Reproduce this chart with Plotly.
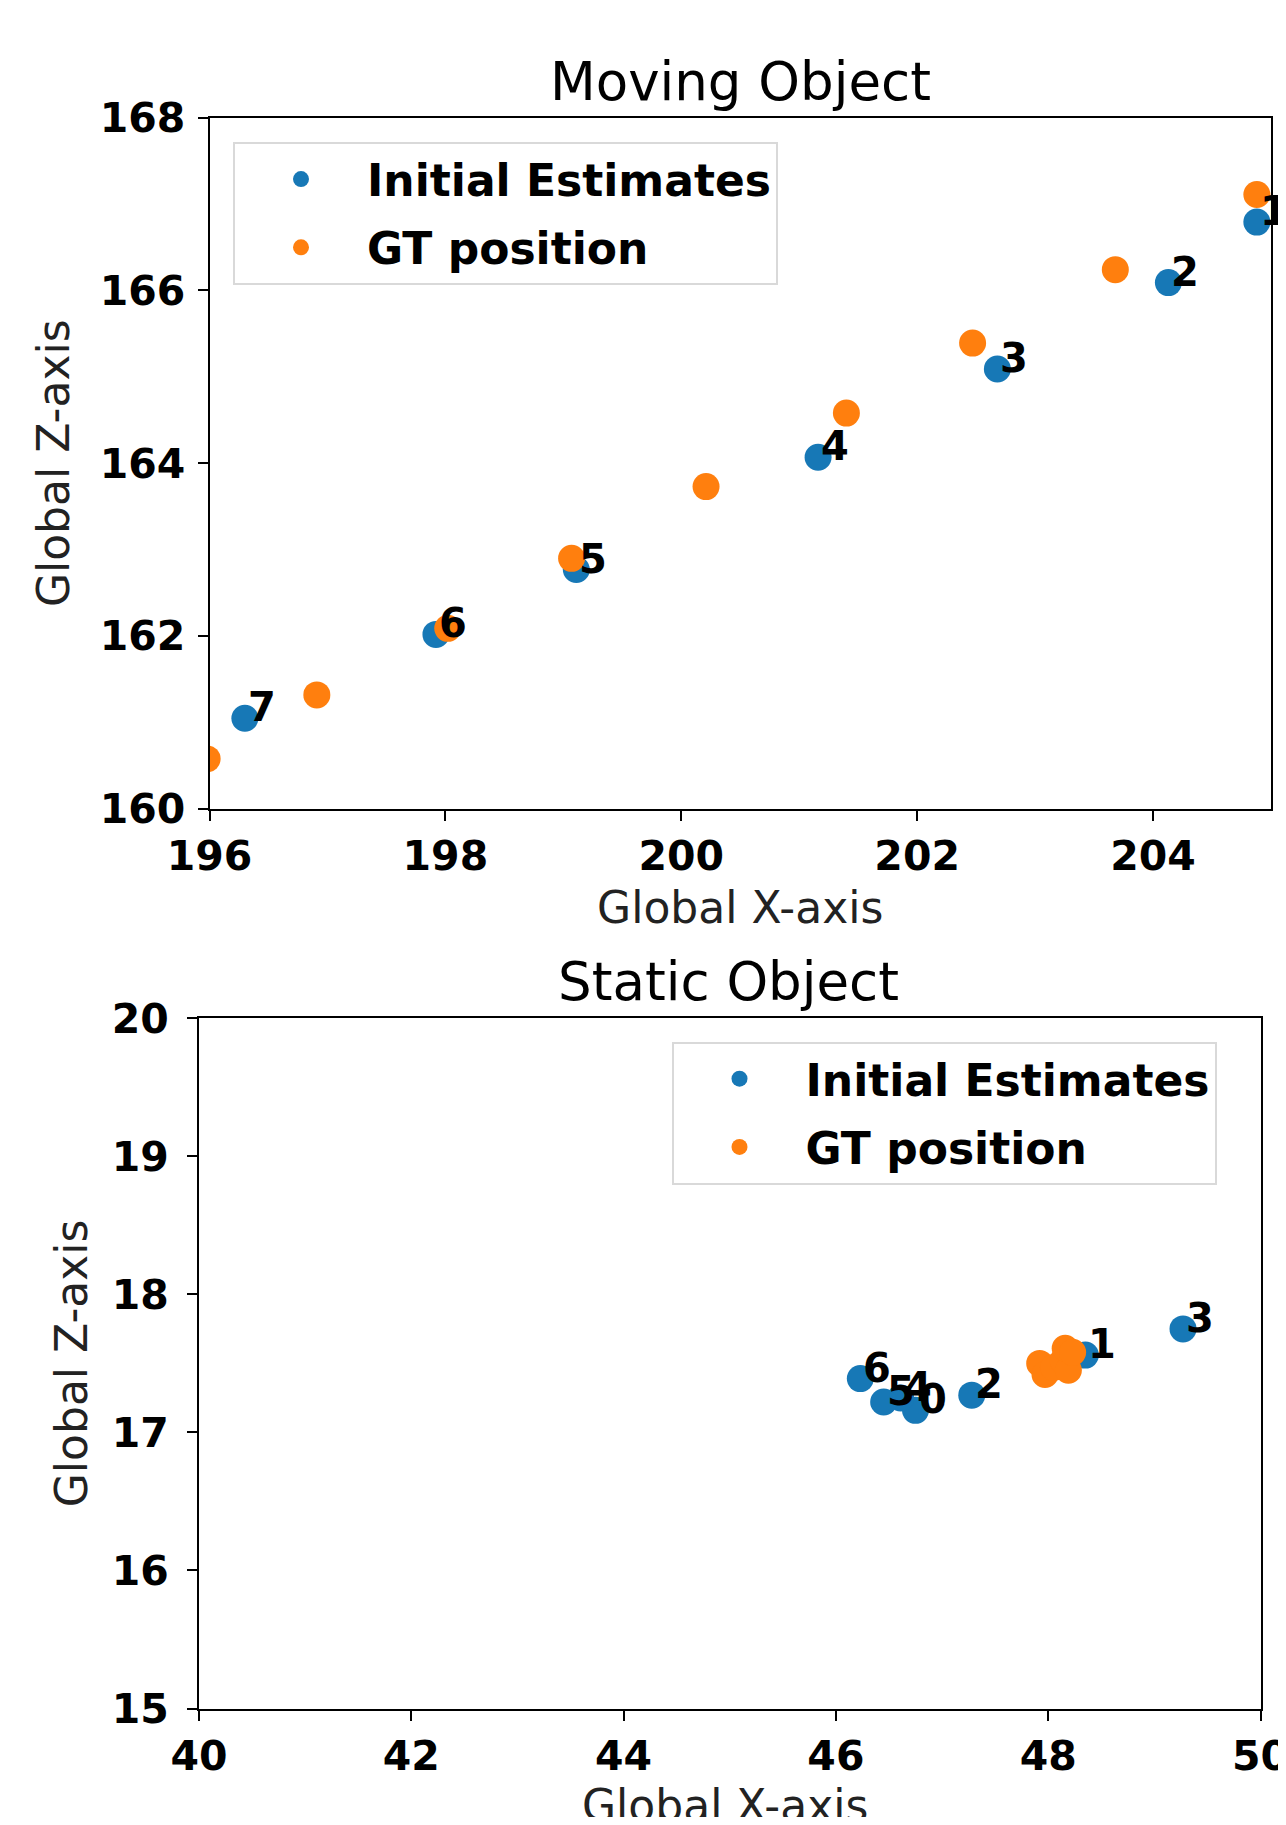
import plotly.graph_objects as go

# ---------------- data ----------------
mov_est_x = [204.88, 204.13, 202.68, 201.16, 199.11, 197.92, 196.30]
mov_est_z = [166.79, 166.09, 165.09, 164.07, 162.77, 162.02, 161.05]
mov_labels = ["1", "2", "3", "4", "5", "6", "7"]
mov_gt_x = [204.88, 203.68, 202.47, 201.40, 200.21, 199.07, 198.02, 196.91, 195.98]
mov_gt_z = [167.11, 166.24, 165.39, 164.58, 163.73, 162.90, 162.09, 161.32, 160.58]

sta_est_x = [46.75, 48.35, 47.28, 49.27, 46.61, 46.45, 46.23]
sta_est_z = [17.16, 17.56, 17.27, 17.75, 17.25, 17.22, 17.39]
sta_labels = ["0", "1", "2", "3", "4", "5", "6"]
sta_gt_x = [47.92, 47.97, 48.05, 48.14, 48.19, 48.16, 48.23]
sta_gt_z = [17.50, 17.42, 17.47, 17.52, 17.45, 17.61, 17.58]

mov_xticks = [196, 198, 200, 202, 204]
mov_zticks = [160, 162, 164, 166, 168]
sta_xticks = [40, 42, 44, 46, 48, 50]
sta_zticks = [15, 16, 17, 18, 19, 20]

BLUE = "#1778b6"
ORANGE = "#ff7f0e"
FONT = "DejaVu Sans"
W, H = 1270, 1809   # page has an 8px body margin

fig = go.Figure()

fig.add_trace(go.Scatter(x=mov_est_x, y=mov_est_z, mode="markers", name="Initial Estimates",
                         marker=dict(color=BLUE, size=27), xaxis="x", yaxis="y",
                         legend="legend", legendgroup="a"))
fig.add_trace(go.Scatter(x=mov_gt_x, y=mov_gt_z, mode="markers", name="GT position",
                         marker=dict(color=ORANGE, size=27), xaxis="x", yaxis="y",
                         legend="legend", legendgroup="b"))
fig.add_trace(go.Scatter(x=sta_est_x, y=sta_est_z, mode="markers", name="Initial Estimates",
                         marker=dict(color=BLUE, size=27), xaxis="x2", yaxis="y2",
                         legend="legend2", legendgroup="c"))
fig.add_trace(go.Scatter(x=sta_gt_x, y=sta_gt_z, mode="markers", name="GT position",
                         marker=dict(color=ORANGE, size=27), xaxis="x2", yaxis="y2",
                         legend="legend2", legendgroup="d"))

lab_font = dict(family=FONT, size=40, color="black", weight="bold")
annotations = []
for x, z, t in zip(mov_est_x, mov_est_z, mov_labels):
    annotations.append(dict(x=x, y=z, xref="x", yref="y", text=t, showarrow=False,
                            xanchor="left", yanchor="middle", xshift=1, yshift=11, font=lab_font))
for x, z, t in zip(sta_est_x, sta_est_z, sta_labels):
    annotations.append(dict(x=x, y=z, xref="x2", yref="y2", text=t, showarrow=False,
                            xanchor="left", yanchor="middle", xshift=1, yshift=11, font=lab_font))

annotations.append(dict(x=732 / W, y=1 - 73 / H, xref="paper", yref="paper", text="Moving Object",
                        showarrow=False, xanchor="center", yanchor="middle",
                        font=dict(family=FONT, size=53, color="black")))
annotations.append(dict(x=720 / W, y=1 - 973 / H, xref="paper", yref="paper", text="Static Object",
                        showarrow=False, xanchor="center", yanchor="middle",
                        font=dict(family=FONT, size=53, color="black")))

title_font = dict(family=FONT, size=44, color="#222")
# bottom x-axis title (runs past the page bottom, as in the original)
annotations.append(dict(x=717 / W, y=1 - 1797 / H, xref="paper", yref="paper", text="Global X-axis",
                        showarrow=False, xanchor="center", yanchor="middle", font=title_font))

axis_common = dict(showgrid=False, zeroline=False, showline=True, linecolor="black", linewidth=2,
                   mirror=True, ticks="outside", ticklen=10, tickwidth=2, tickcolor="black",
                   tickfont=dict(family=FONT, size=41, color="black", weight="bold"),
                   ticklabeloverflow="allow", automargin=False)
leg_font = dict(family=FONT, size=44, color="black", weight="bold")

fig.update_layout(
    width=W, height=H,
    margin=dict(l=0, r=0, t=0, b=0),
    paper_bgcolor="white", plot_bgcolor="white",
    annotations=annotations,
    xaxis=dict(domain=[201.5 / W, 1263 / W], range=[196, 205], tickvals=mov_xticks,
               anchor="y", title=dict(text="Global X-axis", standoff=13, font=title_font),
               **axis_common),
    yaxis=dict(domain=[1 - 801 / H, 1 - 109.5 / H], range=[160, 168], tickvals=mov_zticks,
               anchor="x", ticklabelstandoff=4,
               title=dict(text="Global Z-axis", standoff=16, font=title_font),
               **axis_common),
    xaxis2=dict(domain=[191 / W, 1252.5 / W], range=[40, 50], tickvals=sta_xticks,
                anchor="y2", **axis_common),
    yaxis2=dict(domain=[1 - 1700.5 / H, 1 - 1010.3 / H], range=[15, 20], tickvals=sta_zticks,
                anchor="x2", ticklabelstandoff=10,
                title=dict(text="Global Z-axis", standoff=10, font=title_font),
                **axis_common),
    legend=dict(x=225 / W, y=1 - 134 / H, xanchor="left", yanchor="top",
                bgcolor="white", bordercolor="#d9d9d9", borderwidth=2,
                font=leg_font, itemwidth=122, tracegroupgap=8),
    legend2=dict(x=663.5 / W, y=1 - 1033.6 / H, xanchor="left", yanchor="top",
                 bgcolor="white", bordercolor="#d9d9d9", borderwidth=2,
                 font=leg_font, itemwidth=122, tracegroupgap=8),
    showlegend=True,
)

fig.write_html("out.html")
